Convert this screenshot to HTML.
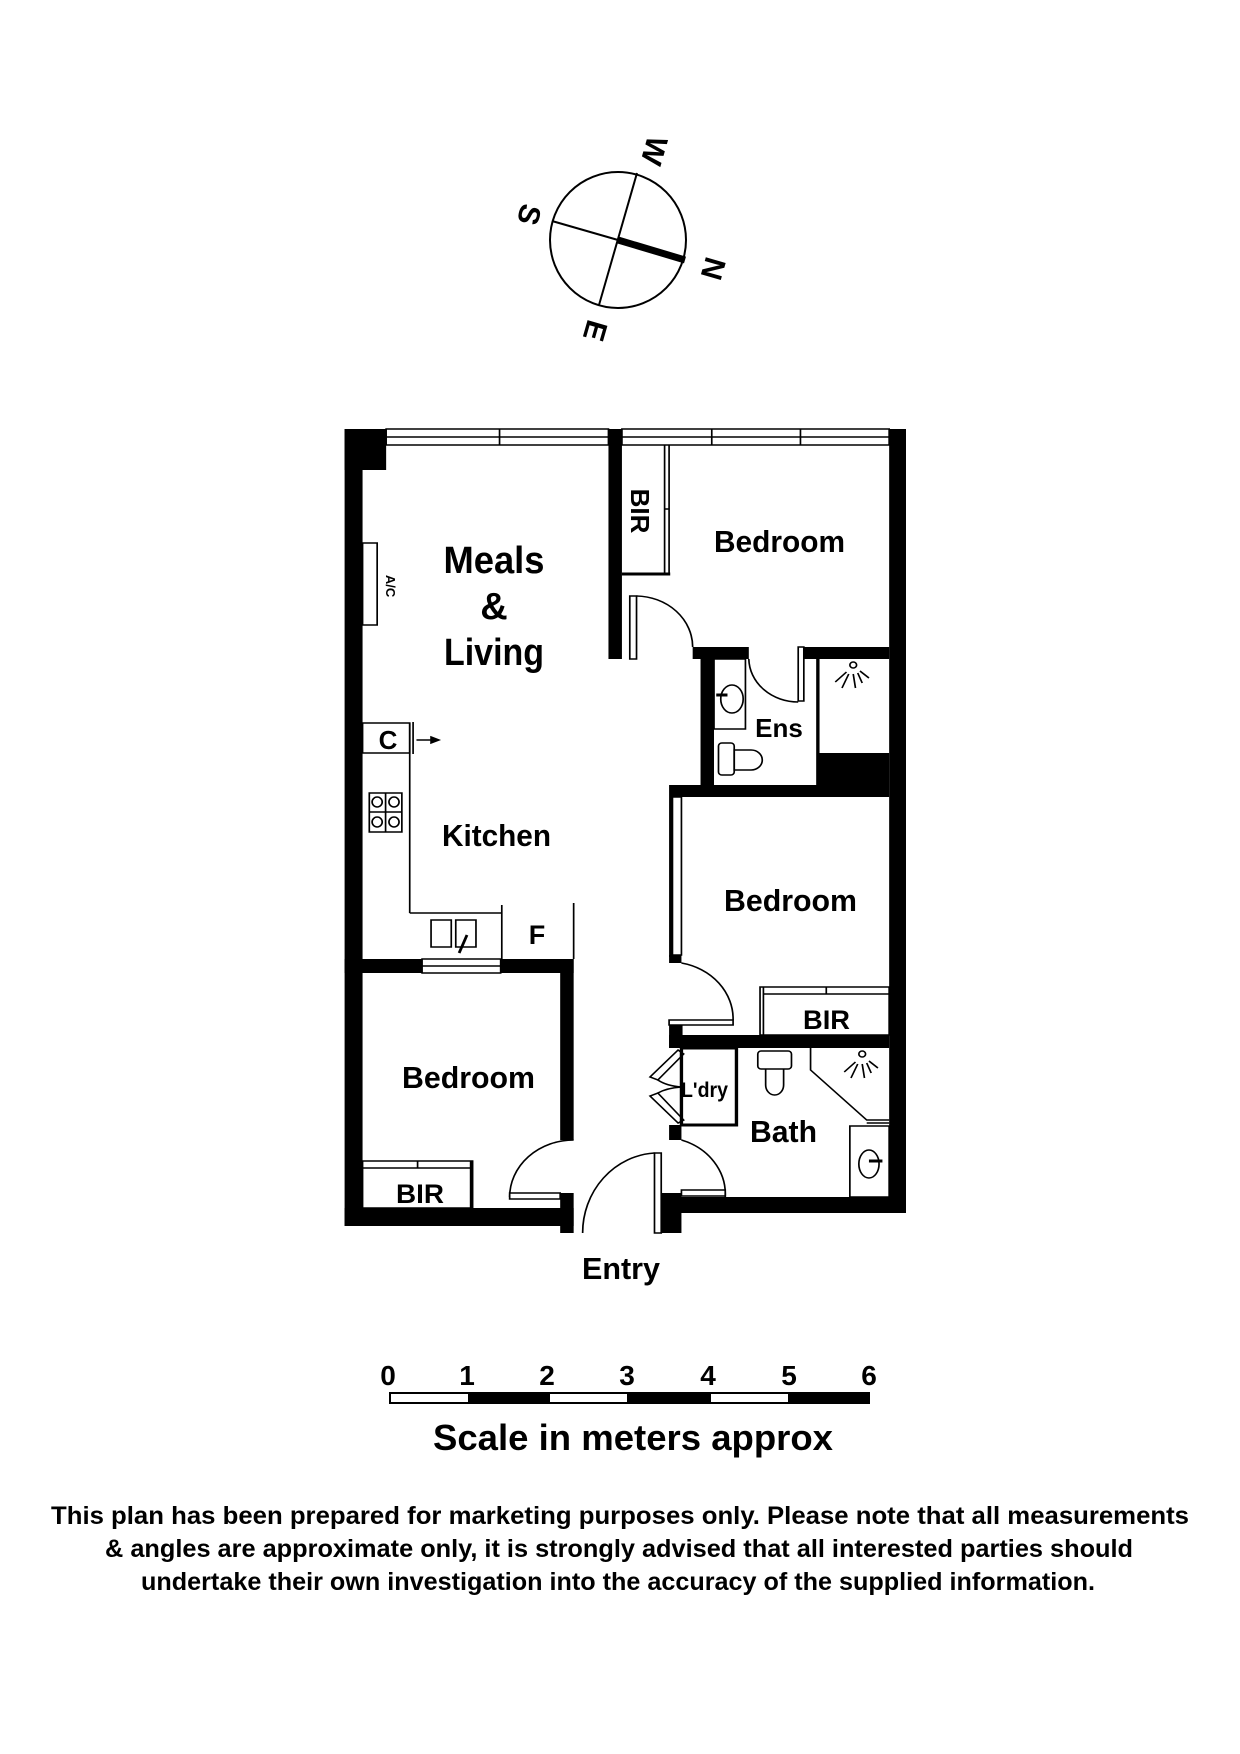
<!DOCTYPE html>
<html><head><meta charset="utf-8"><style>
html,body{margin:0;padding:0;background:#fff}
svg{display:block}
text{font-family:"Liberation Sans",Arial,sans-serif;font-weight:bold;fill:#000}
</style></head><body>
<svg width="1240" height="1754" viewBox="0 0 1240 1754" xmlns="http://www.w3.org/2000/svg">
<rect width="1240" height="1754" fill="#fff"/>
<!-- Compass -->
<g stroke="#000" fill="none">
<circle cx="618" cy="240" r="68" stroke-width="2"/>
<line x1="637" y1="173" x2="599" y2="305" stroke-width="2"/>
<line x1="552" y1="221" x2="618" y2="240" stroke-width="2"/>
<line x1="618" y1="240" x2="685" y2="260" stroke-width="7"/>
</g>
<text font-size="30" transform="translate(652,150) rotate(106)" text-anchor="middle" dominant-baseline="middle">W</text>
<text font-size="30" transform="translate(527,214) rotate(106)" text-anchor="middle" dominant-baseline="middle">S</text>
<text font-size="30" transform="translate(711,268) rotate(106)" text-anchor="middle" dominant-baseline="middle">N</text>
<text font-size="30" transform="translate(593,330) rotate(106)" text-anchor="middle" dominant-baseline="middle">E</text>

<g transform="matrix(1.1228 0 0 1 -40.52 0)">
<g fill="#000">
<rect x="343" y="429" width="16" height="797"/>
<rect x="343" y="429" width="37" height="41"/>
<rect x="828" y="429" width="15" height="784"/>
<rect x="578" y="429" width="12" height="230"/>
<rect x="653" y="647" width="50" height="12"/>
<rect x="752" y="647" width="76" height="12"/>
<rect x="660" y="647" width="12" height="150"/>
<rect x="763" y="753" width="65" height="32"/>
<rect x="632" y="785" width="196" height="12"/>
<rect x="632" y="797" width="3" height="160"/>
<rect x="632" y="955" width="11" height="8"/>
<rect x="632" y="1025" width="12" height="23"/>
<rect x="632" y="1035" width="196" height="13"/>
<rect x="632" y="1125" width="11" height="15"/>
<rect x="632" y="1197" width="211" height="16"/>
<rect x="625" y="1193" width="18" height="40"/>
<rect x="343" y="1208" width="204" height="18"/>
<rect x="535" y="1193" width="12" height="40"/>
<rect x="535" y="959" width="12" height="181"/>
<rect x="343" y="959" width="204" height="14"/>
<rect x="763" y="659" width="3" height="94"/>
</g>
<g stroke="#000" stroke-width="1.5" fill="none">
<rect x="380" y="429" width="198" height="16" fill="#fff"/>
<line x1="380" y1="437" x2="578" y2="437"/>
<line x1="481" y1="429" x2="481" y2="445"/>
<rect x="590" y="429" width="238" height="16" fill="#fff"/>
<line x1="590" y1="437" x2="828" y2="437"/>
<line x1="670" y1="429" x2="670" y2="445"/>
<line x1="749" y1="429" x2="749" y2="445"/>
<line x1="590" y1="574" x2="633" y2="574" stroke-width="3"/>
<line x1="628" y1="445" x2="628" y2="574"/>
<line x1="632" y1="445" x2="632" y2="574"/>
<line x1="628" y1="509" x2="632" y2="509"/>
<rect x="597" y="596" width="6" height="63" fill="#fff"/>
<path d="M603 596 A 51 51 0 0 1 653 647"/>
<rect x="747" y="647" width="5" height="54" fill="#fff"/>
<path d="M703 659 A 44 44 0 0 0 747 702"/>
<rect x="672" y="659" width="28" height="70"/>
<ellipse cx="688" cy="699" rx="10" ry="14"/>
<line x1="674" y1="695" x2="684" y2="695" stroke-width="3"/>
<rect x="676" y="743" width="14" height="32" rx="3"/>
<path d="M690 750 L705 750 A 10 10 0 0 1 705 770 L690 770 Z"/>
<circle cx="796" cy="665" r="3"/>
<path d="M780 682 L790 672 M786 688 L792 674 M798 688 L796 674 M804 683 L800 673 M810 678 L802 671"/>
<rect x="359" y="543" width="13" height="82" fill="#fff"/>
<rect x="359" y="723" width="42" height="30"/>
<line x1="401" y1="723" x2="401" y2="753"/>
<line x1="404" y1="722" x2="404" y2="754"/>
<line x1="407" y1="740" x2="420" y2="740"/>
<path d="M420 737 L427 740 L420 743 Z" fill="#000"/>
<line x1="401" y1="753" x2="401" y2="913"/>
<line x1="401" y1="913" x2="483" y2="913"/>
<line x1="483" y1="905" x2="483" y2="959"/>
<line x1="547" y1="903" x2="547" y2="959"/>
<rect x="365" y="793" width="29" height="39"/>
<line x1="379.5" y1="793" x2="379.5" y2="832"/>
<line x1="365" y1="812" x2="394" y2="812"/>
<ellipse cx="372" cy="802" rx="4.5" ry="5"/><ellipse cx="387" cy="802" rx="4.5" ry="5"/>
<ellipse cx="372" cy="822" rx="4.5" ry="5"/><ellipse cx="387" cy="822" rx="4.5" ry="5"/>
<rect x="420" y="920" width="18" height="27"/>
<rect x="442" y="920" width="18" height="27"/>
<line x1="445" y1="953" x2="452" y2="935" stroke-width="2.5"/>
<rect x="412" y="959" width="70" height="14" fill="#fff"/>
<line x1="412" y1="966" x2="482" y2="966"/>
<rect x="635" y="797" width="8" height="158" fill="#fff"/>
<path d="M643 963 A 57 57 0 0 1 689 1020"/>
<rect x="632" y="1020" width="57" height="5" fill="#fff"/>
<rect x="713" y="987" width="115" height="48"/>
<line x1="716" y1="987" x2="716" y2="1035"/>
<line x1="716" y1="994" x2="828" y2="994"/>
<line x1="772" y1="987" x2="772" y2="994"/>
<rect x="643" y="1048" width="49" height="77" stroke-width="3"/>
<path d="M640 1050 L615 1077 L622 1080 L645 1054 Z"/>
<path d="M640 1123 L615 1096 L622 1093 L645 1120 Z"/>
<path d="M622 1080 Q 630 1086 643 1087 Q 630 1088 622 1093"/>
<rect x="711" y="1051" width="30" height="18" rx="3"/>
<path d="M718 1069 L718 1085 A 8 10 0 0 0 734 1085 L734 1069"/>
<path d="M758 1048 L758 1070 L808 1120 L828 1120"/>
<line x1="808" y1="1123" x2="828" y2="1123"/>
<circle cx="804" cy="1054" r="3"/>
<path d="M788 1072 L798 1062 M794 1078 L800 1064 M806 1078 L804 1064 M812 1073 L808 1063 M818 1068 L810 1061"/>
<rect x="793" y="1126" width="35" height="71"/>
<ellipse cx="810" cy="1164" rx="9" ry="14"/>
<line x1="810" y1="1161" x2="822" y2="1161" stroke-width="3"/>
<rect x="359" y="1161" width="98" height="47"/>
<line x1="359" y1="1168" x2="457" y2="1168"/>
<line x1="408" y1="1161" x2="408" y2="1168"/>
<line x1="456" y1="1161" x2="456" y2="1208" stroke-width="3"/>
<path d="M547 1140 A 57 57 0 0 0 490 1197"/>
<rect x="490" y="1193" width="45" height="6" fill="#fff"/>
<path d="M643 1140 A 57 57 0 0 1 682 1197"/>
<rect x="643" y="1190" width="39" height="6" fill="#fff"/>
<path d="M619 1153 A 68 80 0 0 0 555 1233"/>
<rect x="619" y="1153" width="6" height="80" fill="#fff"/>
</g>
</g>

<!-- Labels -->
<text x="494" y="573" font-size="38" text-anchor="middle" textLength="101" lengthAdjust="spacingAndGlyphs">Meals</text>
<text x="494" y="619" font-size="38" text-anchor="middle">&amp;</text>
<text x="494" y="665" font-size="38" text-anchor="middle" textLength="100" lengthAdjust="spacingAndGlyphs">Living</text>
<text x="714" y="552" font-size="31" textLength="131" lengthAdjust="spacingAndGlyphs">Bedroom</text>
<text x="779" y="737" font-size="26" text-anchor="middle">Ens</text>
<text x="442" y="846" font-size="31" textLength="109" lengthAdjust="spacingAndGlyphs">Kitchen</text>
<text x="724" y="911" font-size="31" textLength="133" lengthAdjust="spacingAndGlyphs">Bedroom</text>
<text x="402" y="1088" font-size="31" textLength="133" lengthAdjust="spacingAndGlyphs">Bedroom</text>
<text x="396" y="1203" font-size="27" textLength="48" lengthAdjust="spacingAndGlyphs">BIR</text>
<text x="803" y="1029" font-size="27" textLength="47" lengthAdjust="spacingAndGlyphs">BIR</text>
<text x="681" y="1097" font-size="21" textLength="47" lengthAdjust="spacingAndGlyphs">L'dry</text>
<text x="750" y="1142" font-size="31" textLength="67" lengthAdjust="spacingAndGlyphs">Bath</text>
<text x="537" y="944" font-size="27" text-anchor="middle">F</text>
<text x="388" y="749" font-size="26" text-anchor="middle">C</text>
<text font-size="26" transform="translate(631,511) rotate(90)" text-anchor="middle">BIR</text>
<text font-size="13" transform="translate(386,586) rotate(90)" text-anchor="middle">A/C</text>
<text x="582" y="1279" font-size="31" textLength="78" lengthAdjust="spacingAndGlyphs">Entry</text>

<g font-size="28" text-anchor="middle">
<text x="388" y="1385">0</text><text x="467" y="1385">1</text><text x="547" y="1385">2</text>
<text x="627" y="1385">3</text><text x="708" y="1385">4</text><text x="789" y="1385">5</text><text x="869" y="1385">6</text>
</g>
<rect x="389" y="1392" width="481" height="12" fill="#000"/>
<rect x="391" y="1394" width="77" height="8" fill="#fff"/>
<rect x="550" y="1394" width="77" height="8" fill="#fff"/>
<rect x="711" y="1394" width="77" height="8" fill="#fff"/>
<text x="433" y="1450" font-size="36" textLength="400" lengthAdjust="spacingAndGlyphs">Scale in meters approx</text>
<text x="51" y="1524" font-size="25" textLength="1138" lengthAdjust="spacingAndGlyphs">This plan has been prepared for marketing purposes only. Please note that all measurements</text>
<text x="105" y="1557" font-size="25" textLength="1028" lengthAdjust="spacingAndGlyphs">&amp; angles are approximate only, it is strongly advised that all interested parties should</text>
<text x="141" y="1590" font-size="25" textLength="954" lengthAdjust="spacingAndGlyphs">undertake their own investigation into the accuracy of the supplied information.</text>
</svg>
</body></html>
